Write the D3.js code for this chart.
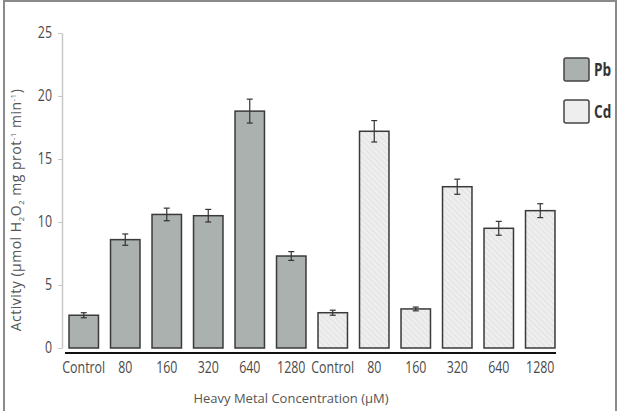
<!DOCTYPE html>
<meta charset="utf-8">
<style>
body { margin: 0; background: #fff; }
.tick text { font-family: "Open Sans", sans-serif; fill: #4a4a4a; }
</style>
<body>
<script src="https://cdn.jsdelivr.net/npm/d3@7/dist/d3.min.js"></script>
<script>

var width = 623,
  height = 411;

// data
var concentrations = ["Control", "80", "160", "320", "640", "1280"];
var metals = ["Pb", "Cd"];
var pbValues = [2.6, 8.6, 10.6, 10.5, 18.8, 7.3];
var pbErrors = [0.2, 0.45, 0.5, 0.5, 0.95, 0.35];
var cdValues = [2.8, 17.2, 3.1, 12.8, 9.5, 10.9];
var cdErrors = [0.2, 0.85, 0.15, 0.6, 0.55, 0.55];
var yTicks = [0, 5, 10, 15, 20, 25];

var squeeze = 0.8; // the original font is a narrow one

var bars = [];
concentrations.forEach(function(c, i) {
  bars.push({key: "Pb-" + c, label: c, metal: "Pb", value: pbValues[i], err: pbErrors[i]});
});
concentrations.forEach(function(c, i) {
  bars.push({key: "Cd-" + c, label: c, metal: "Cd", value: cdValues[i], err: cdErrors[i]});
});

var svg = d3.select("body").append("svg")
  .attr("width", width)
  .attr("height", height);

// hatch for Cd bars
var defs = svg.append("defs");
var pat = defs.append("pattern")
  .attr("id", "hatch")
  .attr("patternUnits", "userSpaceOnUse")
  .attr("width", 4)
  .attr("height", 4)
  .attr("patternTransform", "rotate(-45)");
pat.append("rect").attr("width", 4).attr("height", 4).attr("fill", "#eeeeee");
pat.append("line")
  .attr("x1", 0).attr("y1", 0).attr("x2", 0).attr("y2", 4)
  .attr("stroke", "#d9d9d9").attr("stroke-width", 1.2);

var fills = {Pb: "#aab1ae", Cd: "url(#hatch)"};

// frame
svg.append("path")
  .attr("d", "M4,415V1H616V415")
  .attr("fill", "none")
  .attr("stroke", "#8a8a8a")
  .attr("stroke-width", 2);

var x = d3.scaleBand()
  .domain(bars.map(function(d) { return d.key; }))
  .range([63, 561])
  .paddingInner(0.29)
  .paddingOuter(0.145);

var y = d3.scaleLinear()
  .domain([0, 25])
  .range([348, 33]);

// y axis
var yAxis = svg.append("g")
  .attr("transform", "translate(62,0)")
  .call(d3.axisLeft(y).tickValues(yTicks).tickSize(4).tickSizeOuter(0).tickPadding(9));
yAxis.select(".domain").attr("stroke", "#c8c8c8").attr("stroke-width", 1.5);
yAxis.selectAll(".tick line").attr("stroke", "#c8c8c8");
yAxis.selectAll(".tick text")
  .attr("font-size", 15.5)
  .attr("x", -10 / squeeze)
  .attr("transform", "scale(" + squeeze + ",1)");

// bars
svg.append("g").selectAll("rect")
  .data(bars)
  .enter().append("rect")
  .attr("x", function(d) { return x(d.key); })
  .attr("y", function(d) { return y(d.value); })
  .attr("width", x.bandwidth())
  .attr("height", function(d) { return y(0) - y(d.value); })
  .attr("fill", function(d) { return fills[d.metal]; })
  .attr("stroke", "#3a3a3a")
  .attr("stroke-width", 1.5);

// error bars
var eb = svg.append("g").selectAll("g")
  .data(bars)
  .enter().append("g")
  .attr("stroke", "#333")
  .attr("stroke-width", 1.2);
eb.append("line")
  .attr("x1", function(d) { return x(d.key) + x.bandwidth() / 2; })
  .attr("x2", function(d) { return x(d.key) + x.bandwidth() / 2; })
  .attr("y1", function(d) { return y(d.value + d.err); })
  .attr("y2", function(d) { return y(d.value - d.err); });
[1, -1].forEach(function(s) {
  eb.append("line")
    .attr("x1", function(d) { return x(d.key) + x.bandwidth() / 2 - 3; })
    .attr("x2", function(d) { return x(d.key) + x.bandwidth() / 2 + 3; })
    .attr("y1", function(d) { return y(d.value + s * d.err); })
    .attr("y2", function(d) { return y(d.value + s * d.err); });
});

// x axis (baseline below bars)
var xAxis = svg.append("g")
  .attr("transform", "translate(0,353)")
  .call(d3.axisBottom(x).tickSize(0).tickPadding(9)
    .tickFormat(function(k) { return k.split("-")[1]; }));
xAxis.select(".domain")
  .attr("d", "M" + (x.range()[0] + 2) + ",0H" + (x(bars[bars.length - 1].key) + x.bandwidth() + 1))
  .attr("stroke", "#111")
  .attr("stroke-width", 2);
xAxis.selectAll(".tick text")
  .attr("font-size", 15.5)
  .attr("transform", "scale(" + squeeze + ",1)");

// axis titles
svg.append("text")
  .attr("x", 291)
  .attr("y", 403)
  .attr("text-anchor", "middle")
  .attr("font-family", "Open Sans, sans-serif")
  .attr("font-size", 13)
  .attr("fill", "#555")
  .text("Heavy Metal Concentration (\u00b5M)");

var yl = svg.append("text")
  .attr("transform", "translate(21,210) rotate(-90)")
  .attr("text-anchor", "middle")
  .attr("font-family", "Open Sans, sans-serif")
  .attr("font-size", 14)
  .attr("letter-spacing", 0.5)
  .attr("fill", "#555");
yl.append("tspan").text("Activity (\u00b5mol H");
yl.append("tspan").attr("font-size", 8).attr("dy", 3).text("2");
yl.append("tspan").attr("dy", -3).text("O");
yl.append("tspan").attr("font-size", 8).attr("dy", 3).text("2");
yl.append("tspan").attr("dy", -3).text(" mg prot");
yl.append("tspan").attr("font-size", 8).attr("dy", -5).text("-1");
yl.append("tspan").attr("dy", 5).text(" min");
yl.append("tspan").attr("font-size", 8).attr("dy", -5).text("-1");
yl.append("tspan").attr("dy", 5).text(")");

// legend
var leg = svg.append("g").selectAll("g")
  .data(metals)
  .enter().append("g")
  .attr("transform", function(d, i) { return "translate(564," + (58 + i * 42) + ")"; });
leg.append("rect")
  .attr("width", 25)
  .attr("height", 23)
  .attr("rx", 2)
  .attr("fill", function(d) { return d == "Pb" ? fills.Pb : "#eeeeee"; })
  .attr("stroke", "#444")
  .attr("stroke-width", 1.5);
leg.append("text")
  .attr("x", 30 / squeeze)
  .attr("y", 18)
  .attr("transform", "scale(" + squeeze + ",1)")
  .attr("font-family", "Open Sans, sans-serif")
  .attr("font-weight", "bold")
  .attr("font-size", 17)
  .attr("fill", "#333")
  .text(function(d) { return d; });

</script>
</body>
</html>
